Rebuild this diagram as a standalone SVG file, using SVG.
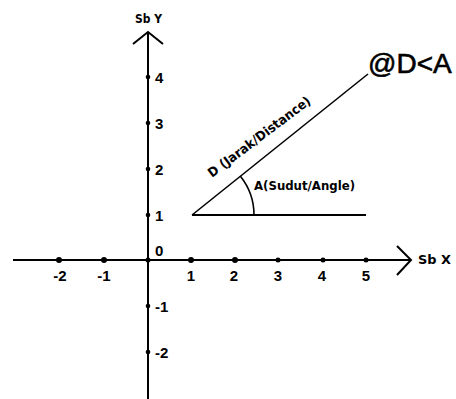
<svg xmlns="http://www.w3.org/2000/svg" width="456" height="399" viewBox="0 0 456 399">
<style>
.ax{stroke:#000;stroke-width:2;fill:none}
.ln{stroke:#000;stroke-width:1.6;fill:none}
.dot{fill:#000}
.num{font-family:"Liberation Sans",Arial,sans-serif;font-weight:bold;font-size:15px;fill:#000}
.lbl{font-family:"DejaVu Sans",Verdana,sans-serif;font-weight:bold;font-size:13px;fill:#000}
.big{font-family:"Liberation Sans",Arial,sans-serif;font-size:28px;fill:#000;stroke:#000;stroke-width:0.6}
</style>
<rect width="456" height="399" fill="#fff"/>
<g id="axes">
  <line class="ax" x1="148" y1="33" x2="148" y2="399"/>
  <polyline class="ax" points="133,44 148,32 163,44"/>
  <line class="ax" x1="13" y1="260" x2="410" y2="260"/>
  <polyline class="ax" points="397,246 411,260 397,275"/>
  <text class="lbl" x="135" y="23" textLength="27" lengthAdjust="spacingAndGlyphs">Sb Y</text>
  <text class="lbl" x="418" y="264" textLength="33" lengthAdjust="spacingAndGlyphs">Sb X</text>
</g>
<g id="y-ticks">
  <circle class="dot" cx="148" cy="77" r="2.3"/>
  <circle class="dot" cx="148" cy="123" r="2.3"/>
  <circle class="dot" cx="148" cy="169" r="2.3"/>
  <circle class="dot" cx="148" cy="215" r="2.3"/>
  <circle class="dot" cx="148" cy="260" r="2.5"/>
  <circle class="dot" cx="148" cy="306" r="2.3"/>
  <circle class="dot" cx="148" cy="352" r="2.3"/>
  <text class="num" x="155" y="83">4</text>
  <text class="num" x="155" y="129">3</text>
  <text class="num" x="155" y="175">2</text>
  <text class="num" x="155" y="221">1</text>
  <text class="num" x="155" y="256">0</text>
  <text class="num" x="155" y="312">-1</text>
  <text class="num" x="155" y="358">-2</text>
</g>
<g id="x-ticks">
  <circle class="dot" cx="59" cy="260" r="3"/>
  <circle class="dot" cx="104" cy="260" r="3"/>
  <circle class="dot" cx="191" cy="260" r="3"/>
  <circle class="dot" cx="235" cy="260" r="3"/>
  <circle class="dot" cx="278" cy="260" r="2.5"/>
  <circle class="dot" cx="323" cy="260" r="2.5"/>
  <circle class="dot" cx="366" cy="260" r="2.5"/>
  <g class="num" text-anchor="middle">
    <text x="60" y="281">-2</text>
    <text x="104" y="281">-1</text>
    <text x="191" y="281">1</text>
    <text x="234" y="281">2</text>
    <text x="278" y="281">3</text>
    <text x="322" y="281">4</text>
    <text x="366" y="281">5</text>
  </g>
</g>
<g id="connectors">
  <line class="ln" x1="192" y1="215" x2="368" y2="74"/>
  <line class="ax" x1="192" y1="215" x2="366" y2="215"/>
  <path class="ln" d="M254,215 A62,62 0 0 0 240.4,176.2"/>
</g>
<g id="distance-label">
  <text class="lbl" transform="translate(212,178) rotate(-37)" textLength="125" lengthAdjust="spacingAndGlyphs">D (Jarak/Distance)</text>
</g>
<g id="angle-label">
  <text class="lbl" x="254" y="190" textLength="101" lengthAdjust="spacingAndGlyphs">A(Sudut/Angle)</text>
</g>
<g id="polar-label">
  <text class="big" x="368" y="73">@D&lt;A</text>
</g>
</svg>
